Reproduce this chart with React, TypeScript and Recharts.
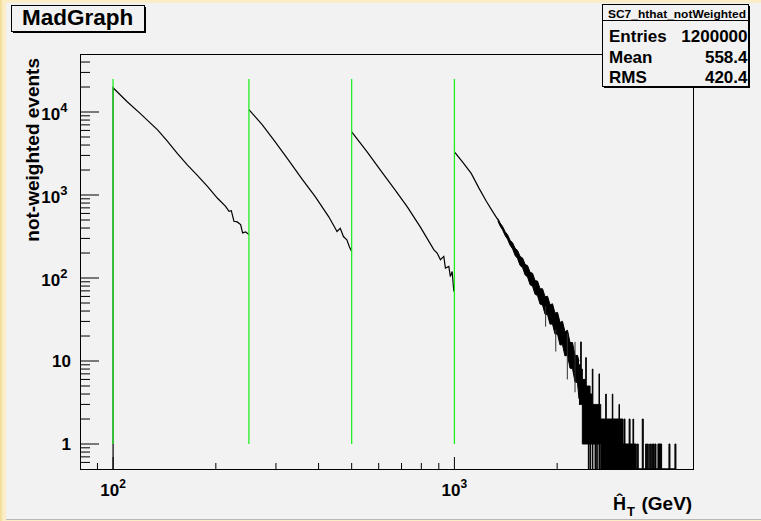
import React from "react";
import { ComposedChart, Line, Area, XAxis, YAxis } from "recharts";

const W = 761;
const H = 521;
const LEFT = 80;
const TOP = 54;
const RIGHT = 693;
const BOTTOM = 469;
const Y_FLOOR = 0.5;
const FONT = '"Liberation Sans", Arial, Helvetica, sans-serif';

// HT bins 100-250 GeV
const seg1X = [100, 100, 110, 120, 135, 144, 154, 165, 176, 189, 202, 213.6, 218.6, 222, 226, 231, 236.4, 239.6, 244.4, 250];
const seg1N = [0, 19600, 13300, 9640, 6100, 4500, 3190, 2310, 1750, 1270, 920, 731, 637, 648, 483, 474, 440, 350, 360, 334];

// 250-500 GeV
const seg2X = [250, 273, 298.5, 326.6, 357, 391, 428, 442, 453, 463, 473, 484, 492, 500];
const seg2N = [10700, 7100, 4370, 2630, 1580, 954, 550, 436, 363, 398, 316, 289, 240, 208];

// 500-1000 GeV
const seg3X = [500, 555, 607, 665, 727, 795, 871, 890, 910, 931, 941, 963, 973, 985, 996, 1000];
const seg3N = [5750, 3310, 2000, 1200, 723, 410, 218, 200, 166, 182, 132, 138, 104, 120, 69, 75];

// 1000+ GeV, clean part
const seg4X = [1000, 1060, 1120, 1180, 1240, 1300, 1340];
const seg4N = [3310, 2450, 1820, 1210, 840, 613, 506];

// 1000+ GeV, fluctuating band (low / high envelope)
const bandX = [1340, 1361, 1384, 1408, 1431, 1456, 1481, 1506, 1531, 1557, 1584, 1611, 1638, 1666, 1694, 1723, 1752, 1782, 1812, 1843, 1874, 1906, 1938, 1971, 2005, 2039, 2073, 2108, 2144, 2181, 2218, 2256, 2294, 2317];
const bandLo = [489, 424, 380, 325, 293, 248, 224, 187, 172, 142, 133, 109, 103, 83, 79.6, 63.6, 61.4, 48.5, 47.3, 36.7, 36.3, 27.8, 28, 21.1, 21.1, 15.6, 15.8, 11.5, 11.8, 8.2, 8.1, 5.6, 5.5, 3.5];
const bandHi = [522, 460, 418, 362, 332, 285, 265, 228, 215, 182, 174, 146, 141, 117, 114, 93, 91.8, 74, 74.2, 59.4, 60.3, 47.5, 48.9, 37.8, 38.5, 29.1, 30.1, 22.5, 23.5, 16.7, 16.7, 11.6, 11.7, 10];

// single fluctuations sticking out of the band
const spikeX = [1850, 1981, 2142, 2256];
const spikeLo = [26, 13, 6, 4.2];
const spikeHi = [46, 24, 21.5, 17];

// far tail, per-column low / high envelope
const tailX = [2317, 2344, 2353, 2370, 2425, 2434, 2468, 2477, 2497, 2506, 2535, 2545, 2582, 2591, 2612, 2621, 2652, 2661, 2683, 2775, 2785, 2901, 2911, 3035, 3045, 3118, 3140, 3160, 3250, 3270, 3335, 3350, 3410, 3433, 3456, 3551, 3575, 3633, 3658, 3673, 3698, 3733, 3758, 3784, 3809, 3824, 3849, 3869, 3895, 3947, 4046, 4251, 4280, 4426, 4456];
const tailLo = [3, 3, 3, 1, 1, 1, 0, 1, 0, 1, 0, 1, 0, 1, 0, 1, 0, 1, 0, 0, 0, 0, 0, 0, 0, 0, 0, 0, 0, 0, 0, 0, 0, 0, 0, 0, 0, 0, 0, 0, 0, 0, 0, 0, 0, 0, 0, 0, 0, 0, 0, 0, 0, 0, 0];
const tailHi = [9, 17, 8, 6, 11, 5, 5, 5, 4, 4, 8, 3, 3, 3, 3, 3, 7, 3, 2, 4, 2, 4, 2, 3, 2, 1, 2, 1, 2, 1, 2, 1, 0, 1, 0, 2, 0, 1, 0, 1, 0, 1, 0, 1, 0, 1, 0, 1, 0, 1, 0, 1, 0, 1, 0];

// sample boundaries (green markers)
const GREEN_X = [100, 250, 500, 1000];
const GREEN_Y = [1, 25000];

const X_TICKS = [90, 100, 200, 300, 400, 500, 600, 700, 800, 900, 1000, 2000, 3000, 4000];
const Y_TICKS = [
  0.6, 0.7, 0.8, 0.9, 1, 2, 3, 4, 5, 6, 7, 8, 9, 10, 20, 30, 40, 50, 60, 70, 80, 90,
  100, 200, 300, 400, 500, 600, 700, 800, 900, 1000, 2000, 3000, 4000, 5000, 6000, 7000, 8000, 9000,
  10000, 20000, 30000, 40000,
];

const STATS_TITLE = "SC7_hthat_notWeighted";
const STATS_ROWS = [
  ["Entries", "1200000"],
  ["Mean", "558.4"],
  ["RMS", "420.4"],
];

const clampY = (v: number) => Math.max(v, Y_FLOOR);
const lineData = (xs: number[], ns: number[]) => xs.map((x, i) => ({ x, y: clampY(ns[i]) }));
const rangeData = (xs: number[], lo: number[], hi: number[]) =>
  xs.map((x, i) => ({ x, range: [clampY(lo[i]), clampY(hi[i])] }));

const seg1 = lineData(seg1X, seg1N);
const seg2 = lineData(seg2X, seg2N);
const seg3 = lineData(seg3X, seg3N);
const seg4 = lineData(seg4X, seg4N);
const band = rangeData(bandX, bandLo, bandHi);
const tail = rangeData(tailX, tailLo, tailHi);
// vertical strokes, split by nulls
const spikes = spikeX.flatMap((x, i) => [
  { x, y: spikeLo[i] },
  { x, y: spikeHi[i] },
  { x, y: null },
]);

const isDecade = (v: number) => {
  const e = Math.log10(v);
  return Math.abs(e - Math.round(e)) < 1e-9;
};

const XTick = (props: any) => {
  const { x, payload } = props;
  const v = payload.value;
  const major = isDecade(v);
  const len = major ? 12 : 6;
  return (
    <g>
      <line x1={x} x2={x} y1={BOTTOM} y2={BOTTOM - len} stroke="#000" strokeWidth={1} />
      {major && (
        <text x={x} y={BOTTOM + 27} textAnchor="middle" fontFamily={FONT} fontWeight="bold" fontSize={17} fill="#000">
          10<tspan dy={-8} fontSize={12}>{Math.round(Math.log10(v))}</tspan>
        </text>
      )}
    </g>
  );
};

const YTick = (props: any) => {
  const { y, payload } = props;
  const v = payload.value;
  const major = isDecade(v);
  const len = major ? 19 : 10;
  const e = Math.round(Math.log10(v));
  return (
    <g>
      <line x1={LEFT} x2={LEFT + len} y1={y} y2={y} stroke="#000" strokeWidth={1} />
      {major && e <= 1 && (
        <text x={71} y={y + 6} textAnchor="end" fontFamily={FONT} fontWeight="bold" fontSize={17} fill="#000">
          {String(v)}
        </text>
      )}
      {major && e > 1 && (
        <text x={67.5} y={y + 7.5} textAnchor="end" fontFamily={FONT} fontWeight="bold" fontSize={17} fill="#000">
          10<tspan dy={-7.5} fontSize={13}>{e}</tspan>
        </text>
      )}
    </g>
  );
};

const histLine = (data: any[], key: string) => (
  <Line
    key={key}
    data={data}
    dataKey="y"
    type="linear"
    stroke="#000"
    strokeWidth={1.2}
    dot={false}
    activeDot={false}
    isAnimationActive={false}
  />
);

const App: React.FC = () => {
  return (
    <div
      style={{
        position: "absolute",
        left: 0,
        top: 0,
        width: W,
        height: H,
        overflow: "hidden",
        background: "linear-gradient(90deg, #f0d890 0px, #fbeec6 3px, #fbeec6 100%)",
        fontFamily: FONT,
      }}
    >
      <div
        style={{
          position: "absolute",
          left: 6,
          top: 3,
          width: W - 6,
          height: 516,
          background: "#f2f2f2",
          borderBottom: "1px solid #b8b8b8",
        }}
      />
      <div style={{ position: "absolute", left: 0, top: 0 }}>
        <ComposedChart width={W} height={H} margin={{ top: TOP, right: W - RIGHT, bottom: 12, left: 20 }}>
          <XAxis
            type="number"
            dataKey="x"
            scale="log"
            domain={[80, 5000]}
            allowDataOverflow
            ticks={X_TICKS}
            interval={0}
            height={40}
            tickSize={0}
            tickMargin={0}
            axisLine={false}
            tickLine={false}
            tick={<XTick />}
          />
          <YAxis
            type="number"
            scale="log"
            domain={[Y_FLOOR, 50000]}
            allowDataOverflow
            ticks={Y_TICKS}
            interval={0}
            width={LEFT - 20}
            tickSize={0}
            tickMargin={0}
            axisLine={false}
            tickLine={false}
            tick={<YTick />}
          />
          <Area
            data={band}
            dataKey="range"
            type="linear"
            stroke="#000"
            strokeWidth={1}
            fill="#000"
            fillOpacity={1}
            isAnimationActive={false}
            dot={false}
            activeDot={false}
          />
          <Area
            data={tail}
            dataKey="range"
            type="stepAfter"
            stroke="#000"
            strokeWidth={1}
            fill="#000"
            fillOpacity={1}
            isAnimationActive={false}
            dot={false}
            activeDot={false}
          />
          <Line
            data={spikes}
            dataKey="y"
            type="linear"
            stroke="#333"
            strokeWidth={1}
            dot={false}
            activeDot={false}
            isAnimationActive={false}
          />
          {histLine(seg1, "seg1")}
          {histLine(seg2, "seg2")}
          {histLine(seg3, "seg3")}
          {histLine(seg4, "seg4")}
          {GREEN_X.map((gx) => (
            <Line
              key={`green-${gx}`}
              data={GREEN_Y.map((gy) => ({ x: gx, y: gy }))}
              dataKey="y"
              type="linear"
              stroke="#22ee22"
              strokeWidth={1.3}
              dot={false}
              activeDot={false}
              isAnimationActive={false}
            />
          ))}
        </ComposedChart>
      </div>
      <svg width={W} height={H} style={{ position: "absolute", left: 0, top: 0, pointerEvents: "none" }}>
        {/* frame */}
        <rect x={LEFT + 0.5} y={TOP + 0.5} width={RIGHT - LEFT} height={BOTTOM - TOP} fill="none" stroke="#000" strokeWidth={1} />
        {/* y title */}
        <text
          transform={`translate(39, ${TOP + 4}) rotate(-90)`}
          textAnchor="end"
          fontFamily={FONT}
          fontWeight="bold"
          fontSize={19}
          fill="#000"
        >
          not-weighted events
        </text>
        {/* x title */}
        <text fontFamily={FONT} fontWeight="bold" fill="#000">
          <tspan x={613} y={510} fontSize={18}>Ĥ</tspan>
          <tspan x={627} y={516} fontSize={13}>T</tspan>
          <tspan x={641.5} y={510} fontSize={19}>(GeV)</tspan>
        </text>
        {/* title box */}
        <rect x={13} y={7} width={133} height={26} fill="#000" />
        <rect x={11.5} y={5.5} width={133} height={26} fill="#f2f2f2" stroke="#000" strokeWidth={1} />
        <text x={22} y={25} fontFamily={FONT} fontWeight="bold" fontSize={22.5} fill="#000">
          MadGraph
        </text>
        {/* stats box */}
        <rect x={604} y={6} width={146} height={82} fill="#000" />
        <rect x={602.5} y={4.5} width={146} height={82} fill="#f2f2f2" stroke="#000" strokeWidth={1} />
        <line x1={602.5} x2={748.5} y1={20.5} y2={20.5} stroke="#000" strokeWidth={1} />
        <text
          x={608}
          y={17.5}
          fontFamily={FONT}
          fontWeight="bold"
          fontSize={11}
          textLength={138}
          lengthAdjust="spacingAndGlyphs"
          fill="#000"
        >
          {STATS_TITLE}
        </text>
        {STATS_ROWS.map(([label, value], i) => (
          <g key={label}>
            <text x={609} y={42 + i * 20.5} fontFamily={FONT} fontWeight="bold" fontSize={17} fill="#000">
              {label}
            </text>
            <text x={747.5} y={42 + i * 20.5} textAnchor="end" fontFamily={FONT} fontWeight="bold" fontSize={17} fill="#000">
              {value}
            </text>
          </g>
        ))}
      </svg>
    </div>
  );
};

export default App;
